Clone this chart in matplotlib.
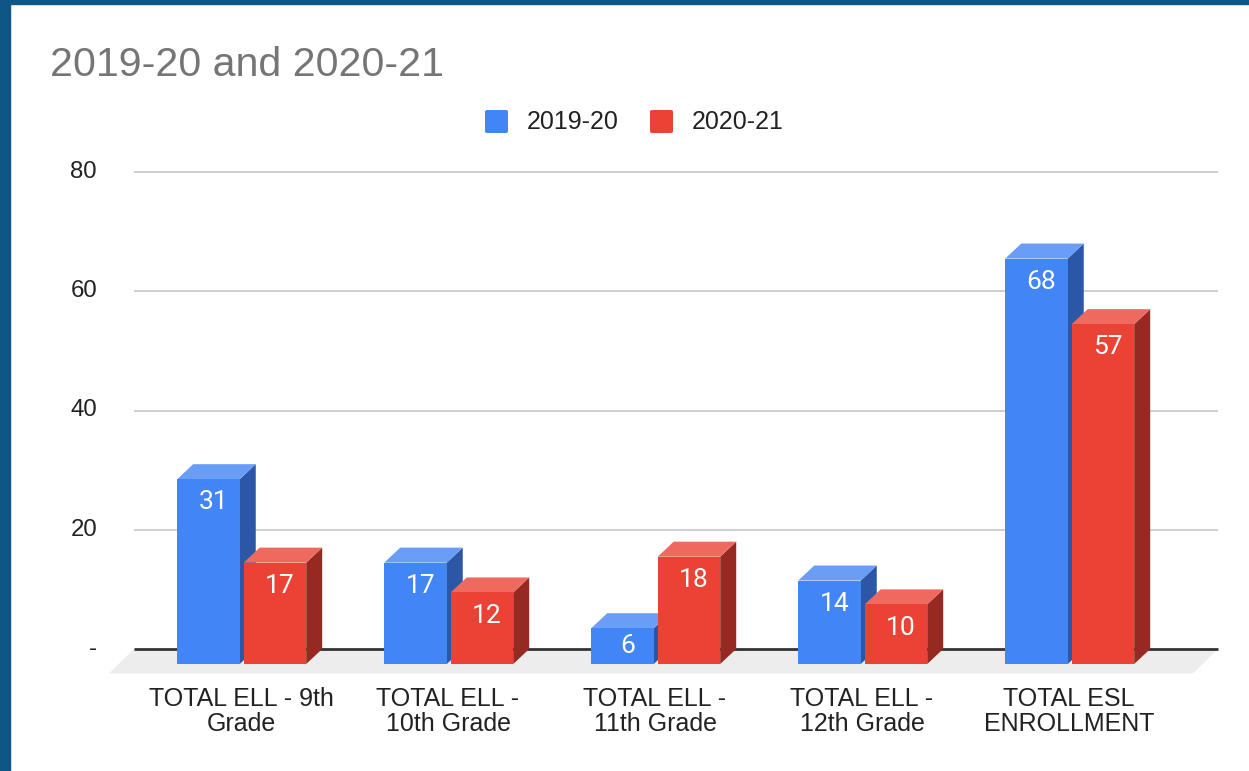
import matplotlib
matplotlib.use("Agg")
import matplotlib.pyplot as plt
from matplotlib.patches import Polygon, Rectangle, FancyBboxPatch

categories = ["TOTAL ELL - 9th\nGrade", "TOTAL ELL -\n10th Grade", "TOTAL ELL -\n11th Grade",
              "TOTAL ELL -\n12th Grade", "TOTAL ESL\nENROLLMENT"]
series_names = ["2019-20", "2020-21"]
values_2019 = [31, 17, 6, 14, 68]
values_2020 = [17, 12, 18, 10, 57]
yticks = [0, 20, 40, 60, 80]
ytick_labels = ["-", "20", "40", "60", "80"]
title = "2019-20 and 2020-21"

front_col = ["#4285F4", "#EA4335"]
side_col = ["#2C57A6", "#962A23"]
top_col = ["#6A9DF6", "#EE6A5F"]

W, H = 1249, 771
fig = plt.figure(figsize=(W / 100, H / 100), dpi=100)
fig.patch.set_facecolor("white")

# frame border (top + left)
border = "#0E5685"
fig.patches.append(Rectangle((0, 0), 10 / W, 1, transform=fig.transFigure, color=border, zorder=0))
fig.patches.append(Rectangle((0, 1 - 4 / H), 1, 4 / H, transform=fig.transFigure, color=border, zorder=0))

# axes placement (pixel-based)
px_left, px_right = 105, 1222
px_top, px_bot = 168, 676
cat0_px, cat_step = 241, 207
y0_px, px_per_unit = 649, 119.25 / 20
ax = fig.add_axes([px_left / W, 1 - px_bot / H, (px_right - px_left) / W, (px_bot - px_top) / H])
ax.set_xlim((px_left - cat0_px) / cat_step, (px_right - cat0_px) / cat_step)
ax.set_ylim((y0_px - px_bot) / px_per_unit, (y0_px - px_top) / px_per_unit)
ax.axis("off")

dx = 16 / cat_step      # depth offset in x (category units)
dy = 15 / px_per_unit   # depth offset in y (value units)
grid_x0, grid_x1 = (134 - cat0_px) / cat_step, (1218 - cat0_px) / cat_step
floor_dx = 25 / cat_step
floor_dy = 24.5 / px_per_unit

# floor
ax.add_patch(Polygon([(grid_x0, 0), (grid_x1, 0), (grid_x1 - floor_dx, -floor_dy),
                      (grid_x0 - floor_dx, -floor_dy)], closed=True, facecolor="#EDEDED",
                     edgecolor="none", zorder=1))
# gridlines on back plane
for t in yticks:
    ax.plot([grid_x0, grid_x1], [t, t], color="#333333" if t == 0 else "#CCCCCC",
            lw=2 if t == 0 else 1.3, zorder=2, solid_capstyle="butt")

# y tick labels
for t, lab in zip(yticks, ytick_labels):
    ax.annotate(lab, xy=(grid_x0, t), xytext=(97 - 134, 0), textcoords="offset pixels",
                ha="right", va="center", fontsize=17.3, color="#222222",
                family=["Liberation Sans", "DejaVu Sans"])

bw = 0.302
offsets = [-0.157, 0.164]
for s, vals in enumerate([values_2019, values_2020]):
    for i, v in enumerate(vals):
        x0 = i + offsets[s] - bw / 2
        x1 = x0 + bw
        zb = 3 + i * 3 + s
        # side face
        ax.add_patch(Polygon([(x1, -dy), (x1 + dx, 0), (x1 + dx, v), (x1, v - dy)],
                             closed=True, facecolor=side_col[s], edgecolor="none", zorder=zb))
        # top face
        ax.add_patch(Polygon([(x0, v - dy), (x1, v - dy), (x1 + dx, v), (x0 + dx, v)],
                             closed=True, facecolor=top_col[s], edgecolor="none", zorder=zb))
        # front face
        ax.add_patch(Rectangle((x0, -dy), bw, v, facecolor=front_col[s], edgecolor="none", zorder=zb))
        ftop = v - dy
        ly = max(ftop - 3.9, (ftop - dy) / 2)
        ax.text((x0 + x1) / 2 + 0.024, ly, str(v), ha="center", va="center", color="white",
                fontsize=19, family=["Roboto", "DejaVu Sans"], zorder=zb + 0.5)

# category labels
for i, c in enumerate(categories):
    ax.annotate(c, xy=(i, (y0_px - 687) / px_per_unit), xycoords="data", ha="center", va="top",
                fontsize=18, color="#222222", linespacing=1.05, annotation_clip=False,
                family=["Liberation Sans", "DejaVu Sans"])

# title
fig.text(50 / W, 1 - 76 / H, title, ha="left", va="baseline", fontsize=29.6, color="#757575",
         family=["Liberation Sans", "DejaVu Sans"])

# legend
leg_items = [(485, series_names[0], front_col[0]), (650, series_names[1], front_col[1])]
for x_px, name, col in leg_items:
    fig.patches.append(FancyBboxPatch((x_px / W, 1 - 133 / H), 23 / W, 23 / H,
                                      boxstyle="round,pad=0,rounding_size=0.002",
                                      transform=fig.transFigure, facecolor=col, edgecolor="none"))
    fig.text((x_px + 42) / W, 1 - 122 / H, name, ha="left", va="center", fontsize=18,
             color="#222222", family=["Liberation Sans", "DejaVu Sans"])

fig.savefig("out.png", dpi=100)
